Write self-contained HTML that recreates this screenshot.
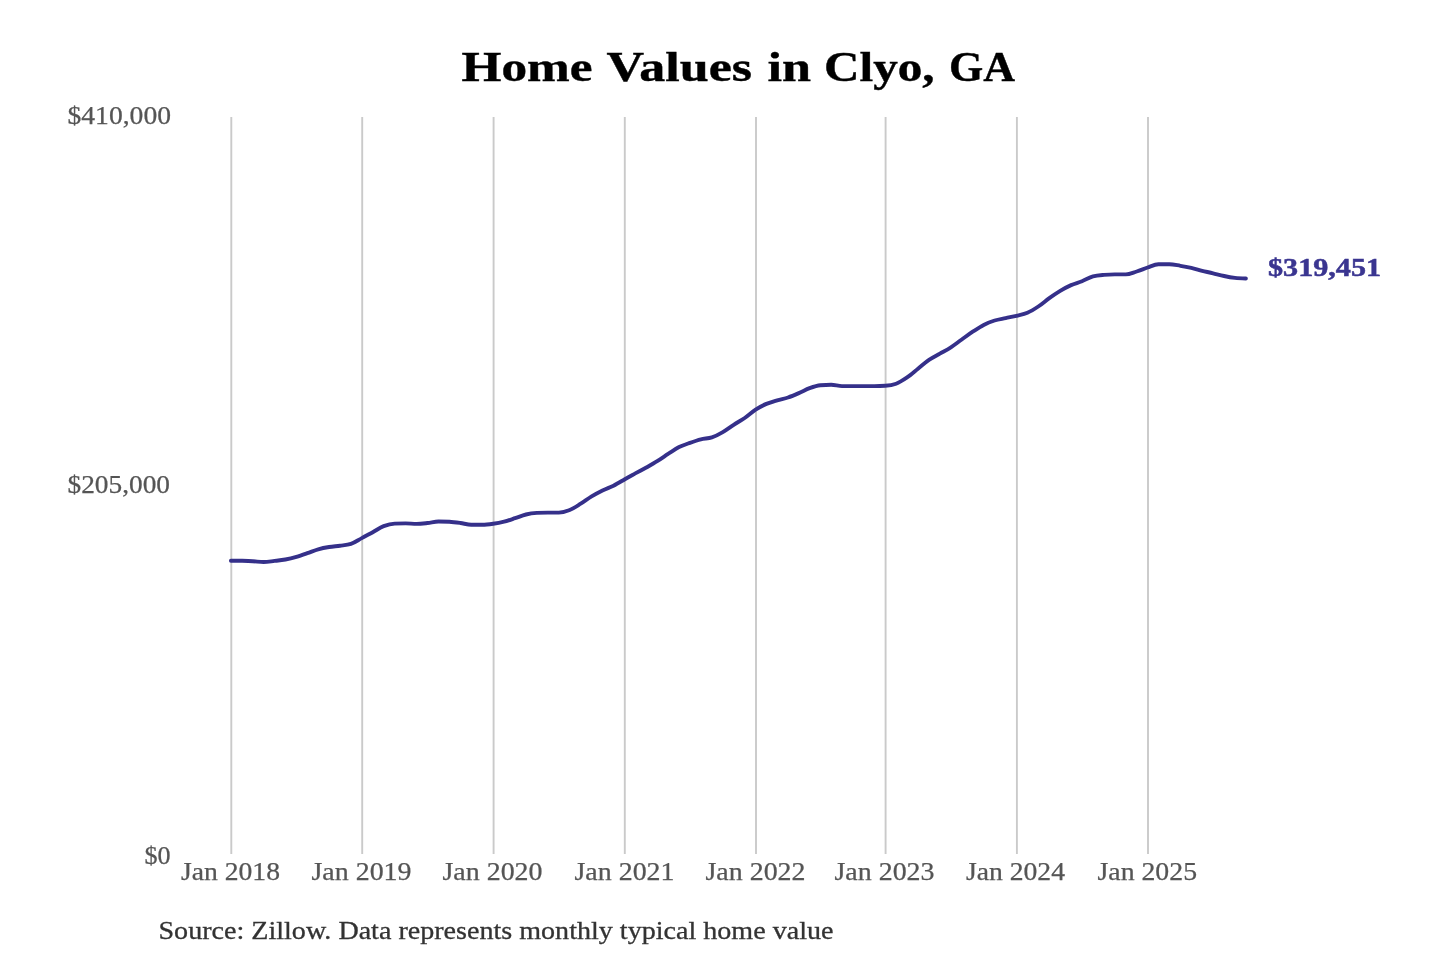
<!DOCTYPE html>
<html><head><meta charset="utf-8"><title>Home Values in Clyo, GA</title>
<style>
html,body{margin:0;padding:0;background:#fff;}
body{width:1440px;height:960px;overflow:hidden;}
svg{display:block;will-change:transform;font-family:"Liberation Serif",serif;}
.grid line{stroke:#cacaca;stroke-width:1.9;}
</style></head><body>
<svg width="1440" height="960" viewBox="0 0 1440 960">
<rect width="1440" height="960" fill="#fff"/>
<g class="grid"><line x1="231.3" y1="117" x2="231.3" y2="854"/><line x1="362.2" y1="117" x2="362.2" y2="854"/><line x1="493.6" y1="117" x2="493.6" y2="854"/><line x1="624.8" y1="117" x2="624.8" y2="854"/><line x1="756.0" y1="117" x2="756.0" y2="854"/><line x1="885.6" y1="117" x2="885.6" y2="854"/><line x1="1016.9" y1="117" x2="1016.9" y2="854"/><line x1="1148.0" y1="117" x2="1148.0" y2="854"/></g>
<path d="M230.9,560.7C234.5,560.7,238.2,560.7,241.8,560.8C245.4,560.9,249.1,561.0,252.7,561.2C256.4,561.4,260.0,562.0,263.6,562.0C267.3,562.0,270.9,561.3,274.5,560.9C278.2,560.5,281.8,560.2,285.4,559.5C289.1,558.8,292.7,557.9,296.4,556.8C300.0,555.8,303.6,554.5,307.3,553.2C310.9,552.0,314.5,550.3,318.2,549.3C321.8,548.3,325.4,547.6,329.1,547.0C332.7,546.4,336.3,546.2,340.0,545.7C343.6,545.2,347.3,545.1,350.9,543.9C354.5,542.7,358.2,540.0,361.8,538.1C365.4,536.1,369.1,534.2,372.8,532.2C376.4,530.2,380.1,527.5,383.7,526.1C387.4,524.7,391.0,523.7,394.7,523.6C398.3,523.5,402.0,523.4,405.6,523.4C409.2,523.4,412.9,523.9,416.6,523.9C420.2,523.9,423.9,523.4,427.5,523.0C431.2,522.6,434.8,521.5,438.5,521.5C442.1,521.5,445.8,521.6,449.4,521.8C453.1,522.0,456.7,522.5,460.4,523.0C464.0,523.5,467.7,524.7,471.3,524.7C475.0,524.7,478.6,524.7,482.3,524.7C485.9,524.7,489.6,524.2,493.2,523.7C496.8,523.2,500.5,522.5,504.1,521.6C507.8,520.7,511.4,519.4,515.1,518.2C518.7,517.0,522.4,515.4,526.0,514.5C529.6,513.6,533.3,513.1,536.9,512.9C540.6,512.7,544.2,512.6,547.9,512.6C551.5,512.6,555.2,512.6,558.8,512.6C562.4,512.6,566.1,511.5,569.7,510.0C573.4,508.5,577.0,506.0,580.7,503.7C584.3,501.4,588.0,498.6,591.6,496.4C595.2,494.2,598.9,492.3,602.5,490.5C606.2,488.7,609.8,487.5,613.5,485.7C617.1,483.9,620.8,481.6,624.4,479.5C628.0,477.4,631.7,475.4,635.3,473.4C639.0,471.4,642.6,469.5,646.3,467.5C649.9,465.5,653.6,463.5,657.2,461.2C660.8,458.9,664.5,456.3,668.1,453.9C671.8,451.6,675.4,449.0,679.1,447.1C682.7,445.3,686.4,444.1,690.0,442.8C693.6,441.5,697.3,440.2,700.9,439.3C704.6,438.4,708.2,438.6,711.9,437.4C715.5,436.2,719.2,434.2,722.8,432.1C726.4,430.0,730.1,427.2,733.7,424.8C737.4,422.4,741.0,420.5,744.7,418.0C748.3,415.5,752.0,412.0,755.6,409.6C759.2,407.3,762.8,405.5,766.4,403.9C770.0,402.4,773.6,401.4,777.2,400.3C780.8,399.2,784.4,398.7,788.0,397.5C791.6,396.3,795.2,394.7,798.8,393.1C802.4,391.6,806.0,389.5,809.6,388.2C813.2,386.9,816.8,385.6,820.4,385.3C824.0,385.0,827.6,384.8,831.2,384.8C834.8,384.8,838.4,386.1,842.0,386.1C845.6,386.1,849.2,386.1,852.8,386.1C856.4,386.1,860.0,386.1,863.6,386.1C867.2,386.1,870.8,386.1,874.4,386.1C878.0,386.1,881.6,386.0,885.2,385.8C888.8,385.6,892.5,385.1,896.1,383.7C899.8,382.3,903.4,379.9,907.1,377.4C910.7,374.9,914.4,371.6,918.0,368.7C921.7,365.8,925.3,362.4,929.0,359.9C932.6,357.4,936.3,355.7,939.9,353.6C943.6,351.5,947.2,349.7,950.9,347.3C954.5,344.9,958.1,342.1,961.8,339.5C965.4,336.9,969.1,334.1,972.7,331.7C976.4,329.3,980.0,326.8,983.7,324.9C987.3,323.0,991.0,321.6,994.6,320.5C998.3,319.4,1001.9,318.9,1005.6,318.1C1009.2,317.3,1012.9,316.7,1016.5,315.8C1020.1,314.9,1023.8,314.4,1027.4,312.8C1031.1,311.2,1034.7,308.9,1038.3,306.5C1042.0,304.1,1045.6,300.8,1049.3,298.2C1052.9,295.6,1056.6,293.1,1060.2,290.9C1063.8,288.7,1067.5,286.7,1071.1,285.1C1074.8,283.5,1078.4,282.7,1082.0,281.2C1085.7,279.8,1089.3,277.4,1093.0,276.4C1096.6,275.4,1100.3,275.2,1103.9,274.9C1107.5,274.6,1111.2,274.4,1114.8,274.4C1118.5,274.4,1122.1,274.4,1125.8,274.4C1129.4,274.4,1133.0,272.6,1136.7,271.5C1140.3,270.4,1144.0,268.7,1147.6,267.5C1151.2,266.3,1154.9,264.4,1158.5,264.3C1162.2,264.2,1165.8,264.2,1169.4,264.2C1173.1,264.2,1176.7,265.2,1180.4,265.8C1184.0,266.4,1187.7,267.1,1191.3,267.9C1194.9,268.7,1198.6,269.9,1202.2,270.8C1205.9,271.7,1209.5,272.4,1213.1,273.3C1216.8,274.2,1220.4,275.2,1224.1,276.0C1227.7,276.8,1231.4,277.5,1235.0,277.9C1238.6,278.3,1242.3,278.4,1245.9,278.5" fill="none" stroke="#35308a" stroke-width="3.9" stroke-linejoin="round" stroke-linecap="round"/>
<text x="461.5" y="81" font-weight="bold" font-size="42" fill="#000" stroke="#000" stroke-width="0.4" textLength="131.03" lengthAdjust="spacingAndGlyphs">Home</text>
<text x="606.5" y="81" font-weight="bold" font-size="42" fill="#000" stroke="#000" stroke-width="0.4" textLength="145.52" lengthAdjust="spacingAndGlyphs">Values</text>
<text x="767.5" y="81" font-weight="bold" font-size="42" fill="#000" stroke="#000" stroke-width="0.4" textLength="43.52" lengthAdjust="spacingAndGlyphs">in</text>
<text x="824.0" y="81" font-weight="bold" font-size="42" fill="#000" stroke="#000" stroke-width="0.4" textLength="110.6" lengthAdjust="spacingAndGlyphs">Clyo,</text>
<text x="949.0" y="81" font-weight="bold" font-size="42" fill="#000" stroke="#000" stroke-width="0.4" textLength="66.04" lengthAdjust="spacingAndGlyphs">GA</text>
<text x="67.5" y="124.2" font-size="25" fill="#555" stroke="#555" stroke-width="0.25" textLength="103.53" lengthAdjust="spacingAndGlyphs">$410,000</text>
<text x="67.5" y="492.6" font-size="25" fill="#555" stroke="#555" stroke-width="0.25" textLength="102.53" lengthAdjust="spacingAndGlyphs">$205,000</text>
<text x="144.5" y="863.7" font-size="25" fill="#555" stroke="#555" stroke-width="0.25" textLength="26.13" lengthAdjust="spacingAndGlyphs">$0</text>
<text x="181.0" y="879.8" font-size="25" fill="#555" stroke="#555" stroke-width="0.25" textLength="99.01" lengthAdjust="spacingAndGlyphs">Jan 2018</text>
<text x="311.5" y="879.8" font-size="25" fill="#555" stroke="#555" stroke-width="0.25" textLength="100.02" lengthAdjust="spacingAndGlyphs">Jan 2019</text>
<text x="442.5" y="879.8" font-size="25" fill="#555" stroke="#555" stroke-width="0.25" textLength="100.01" lengthAdjust="spacingAndGlyphs">Jan 2020</text>
<text x="574.5" y="879.8" font-size="25" fill="#555" stroke="#555" stroke-width="0.25" textLength="100.01" lengthAdjust="spacingAndGlyphs">Jan 2021</text>
<text x="705.5" y="879.8" font-size="25" fill="#555" stroke="#555" stroke-width="0.25" textLength="100.02" lengthAdjust="spacingAndGlyphs">Jan 2022</text>
<text x="834.5" y="879.8" font-size="25" fill="#555" stroke="#555" stroke-width="0.25" textLength="100.01" lengthAdjust="spacingAndGlyphs">Jan 2023</text>
<text x="966.0" y="879.8" font-size="25" fill="#555" stroke="#555" stroke-width="0.25" textLength="99.01" lengthAdjust="spacingAndGlyphs">Jan 2024</text>
<text x="1097.5" y="879.8" font-size="25" fill="#555" stroke="#555" stroke-width="0.25" textLength="99.52" lengthAdjust="spacingAndGlyphs">Jan 2025</text>
<text x="1268.0" y="276.4" font-weight="bold" font-size="25" fill="#3a3590" stroke="#3a3590" stroke-width="0.5" textLength="113.02" lengthAdjust="spacingAndGlyphs">$319,451</text>
<text x="158.5" y="938.7" font-size="25" fill="#333" stroke="#333" stroke-width="0.3" textLength="675.01" lengthAdjust="spacingAndGlyphs">Source: Zillow. Data represents monthly typical home value</text>
</svg>
</body></html>
